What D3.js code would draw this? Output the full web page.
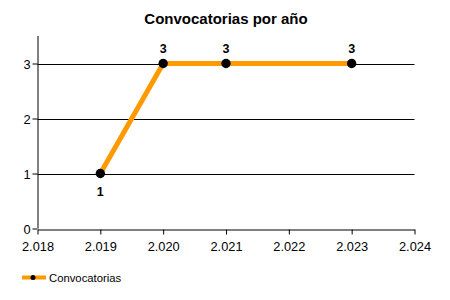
<!DOCTYPE html>
<html>
<head>
<meta charset="utf-8">
<script src="https://cdn.jsdelivr.net/npm/d3@7"></script>
<style>
    body { margin: 0; background: #fff; }
    svg { display: block; font-family: Arial, "Liberation Sans", sans-serif; }
</style>
</head>
<body>
<svg id="chart" width="450" height="300"></svg>
<script>
// data
const years = [2019, 2020, 2021, 2023];
const counts = [1, 3, 3, 3];
const xTicks = [2018, 2019, 2020, 2021, 2022, 2023, 2024];
const yTicks = [0, 1, 2, 3];
const seriesName = "Convocatorias";
const title = "Convocatorias por año";

const svg = d3.select("#chart");
const lineColor = "#ff9900";

const x = d3.scaleLinear().domain([2018, 2024]).range([37.5, 414.5]);
const y = d3.scaleLinear().domain([0, 3.5]).range([228.5, 36]);

const es = d3.formatLocale({ decimal: ",", thousands: ".", grouping: [3], currency: ["", "€"] });
const fmtYear = es.format(",d");

svg.append("text")
    .attr("x", 226)
    .attr("y", 24)
    .attr("text-anchor", "middle")
    .attr("font-size", "15px")
    .attr("font-weight", "bold")
    .text(title);

// horizontal grid
svg.append("g")
    .selectAll("line")
    .data(yTicks.filter(d => d > 0))
    .enter()
    .append("line")
    .attr("x1", x(2018))
    .attr("x2", x(2024))
    .attr("y1", d => Math.round(y(d)) + 0.5)
    .attr("y2", d => Math.round(y(d)) + 0.5)
    .attr("stroke", "#000")
    .attr("stroke-width", 1);

// axes
const xAxis = svg.append("g")
    .attr("transform", `translate(0,${Math.round(y(0)) + 0.5})`)
    .call(d3.axisBottom(x).tickValues(xTicks).tickFormat(fmtYear).tickSize(5).tickPadding(5).tickSizeOuter(0));
const yAxis = svg.append("g")
    .attr("transform", `translate(${x(2018)},0)`)
    .call(d3.axisLeft(y).tickValues(yTicks).tickFormat(d3.format("d")).tickSize(5).tickPadding(2).tickSizeOuter(0));

[xAxis, yAxis].forEach(a => {
    a.select(".domain").attr("stroke", "#000");
    a.selectAll(".tick line").attr("stroke", "#000");
    a.selectAll(".tick text")
        .attr("fill", "#000")
        .attr("font-size", "12.8px")
        .attr("font-family", "Arial, 'Liberation Sans', sans-serif");
});
yAxis.select(".domain").attr("d", `M0.5,${y(0)}V${y(3.5)}`);
yAxis.selectAll(".tick text").attr("dy", "0.36em");
xAxis.selectAll(".tick text").attr("dy", "0.9em");

const pts = years.map((yr, i) => ({ yr, v: counts[i] }));
const minV = d3.min(counts);

svg.append("path")
    .datum(pts)
    .attr("fill", "none")
    .attr("stroke", lineColor)
    .attr("stroke-width", 5)
    .attr("stroke-linejoin", "round")
    .attr("d", d3.line().x(d => x(d.yr)).y(d => y(d.v)));

svg.append("g")
    .selectAll("circle")
    .data(pts)
    .enter()
    .append("circle")
    .attr("cx", d => x(d.yr))
    .attr("cy", d => y(d.v))
    .attr("r", 4.7)
    .attr("fill", "#000");

svg.append("g")
    .selectAll("text")
    .data(pts)
    .enter()
    .append("text")
    .attr("x", d => x(d.yr))
    .attr("y", d => d.v === minV ? y(d.v) + 22 : y(d.v) - 11)
    .attr("text-anchor", "middle")
    .attr("font-size", "12.5px")
    .attr("font-weight", "bold")
    .text(d => d.v);

// legend
const lg = svg.append("g").attr("transform", "translate(22,277.5)");
lg.append("line")
    .attr("x1", 0).attr("x2", 24)
    .attr("stroke", lineColor)
    .attr("stroke-width", 4);
lg.append("circle").attr("cx", 11).attr("r", 2.5).attr("fill", "#000");
lg.append("text")
    .attr("x", 27)
    .attr("y", 4)
    .attr("font-size", "11.3px")
    .text(seriesName);
</script>
</body>
</html>
